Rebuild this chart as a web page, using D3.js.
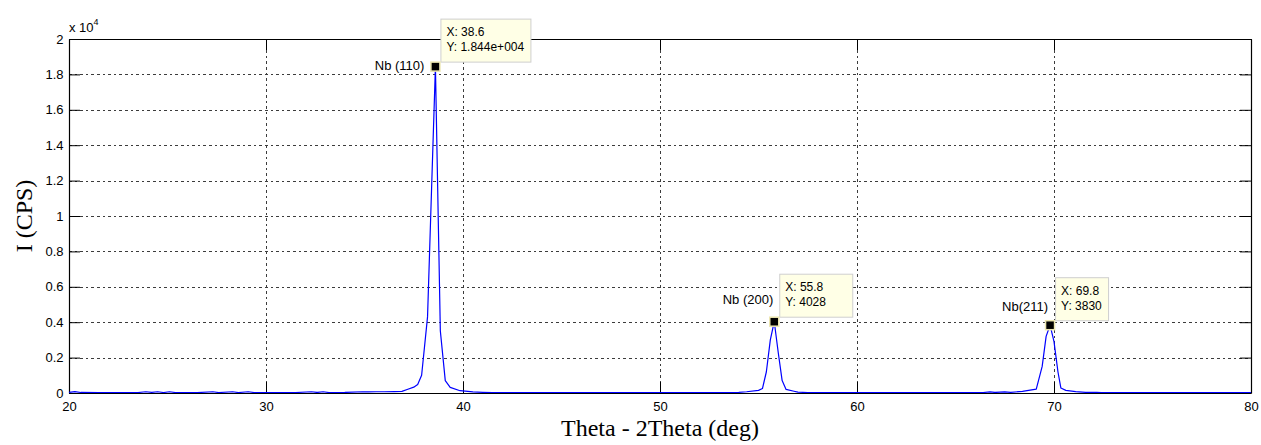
<!DOCTYPE html>
<html>
<head>
<meta charset="utf-8">
<script src="https://cdn.jsdelivr.net/npm/d3@7"></script>
<style>
  html, body { margin: 0; padding: 0; background: #fff; }
  svg { display: block; }
</style>
</head>
<body>
<svg id="chart" width="1261" height="445"></svg>
<script>
// XRD scan of a Nb film: 2-theta (deg) against intensity (counts per second)
const theta = [
  20.0, 20.3, 20.6, 21.5, 22.5, 23.5, 23.9, 24.2, 24.5, 24.8, 25.1, 25.4,
  26.5, 27.3, 27.6, 28.3, 28.6, 29.1, 29.4, 30.5, 31.5, 32.3, 32.6, 32.9,
  33.2, 34.0, 34.9, 35.2, 35.6, 36.0, 36.5, 36.9, 37.2, 37.5, 37.7, 37.9,
  38.2, 38.6, 38.85, 39.1, 39.35, 39.85, 40.5, 41.0, 41.5, 43.0, 45.0, 47.0,
  49.0, 51.0, 53.0, 54.0, 54.4, 55.0, 55.2, 55.4, 55.6, 55.8, 56.0, 56.2,
  56.4, 56.8, 57.0, 57.5, 59.0, 61.0, 63.0, 65.0, 66.4, 66.75, 67.0, 67.5,
  67.8, 68.4, 69.1, 69.4, 69.6, 69.8, 70.0, 70.2, 70.35, 70.6, 71.1, 71.6,
  72.17, 72.4, 74.0, 76.0, 78.0, 80.0
];
const intensity = [
  30, 80, 30, 20, 25, 25, 70, 40, 70, 25, 70, 25,
  20, 70, 25, 70, 25, 70, 25, 20, 25, 70, 30, 70,
  25, 30, 70, 60, 70, 70, 80, 90, 210, 330, 480, 1000,
  4300, 18440, 3500, 700, 320, 130, 60, 40, 20, 20, 25, 20,
  25, 20, 25, 40, 70, 150, 250, 1200, 3000, 4028, 2300, 700,
  200, 100, 50, 20, 25, 20, 25, 20, 25, 60, 30, 60,
  40, 90, 220, 1500, 3200, 3830, 2900, 1200, 280, 150, 75, 40,
  40, 20, 20, 25, 20, 20
];

// Axis ticks
const xTicks = [20, 30, 40, 50, 60, 70, 80];
const yTicks = [0, 2000, 4000, 6000, 8000, 10000, 12000, 14000, 16000, 18000, 20000];
const yTickLabels = ["0", "0.2", "0.4", "0.6", "0.8", "1", "1.2", "1.4", "1.6", "1.8", "2"];

// Indexed reflections with their data tips
const peakTheta = [38.6, 55.8, 69.8];
const peakIntensity = [18440, 4028, 3830];
const peakNames = ["Nb (110)", "Nb (200)", "Nb(211)"];

// Placement of the reflection names relative to each marker (dx = right end, dy = baseline)
const nameOffsets = [[-11, 3.5], [-1, -17.5], [-2, -14]];
// Extra right padding inside each tip box
const tipExtraPad = [0, 20, 0];

const svg = d3.select("#chart");
const plot = { left: 69, top: 39, right: 1251, bottom: 393 };
const tickLen = 11;
const sans = "'Liberation Sans', Arial, Helvetica, sans-serif";
const serif = "'Liberation Serif', 'Times New Roman', serif";

const x = d3.scaleLinear().domain([20, 80]).range([plot.left, plot.right]);
const y = d3.scaleLinear().domain([0, 20000]).range([plot.bottom, plot.top]);

svg.append("rect").attr("width", 1261).attr("height", 445).attr("fill", "#fff");

// Dotted grid
const grid = svg.append("g")
  .attr("stroke", "#3c3c3c")
  .attr("stroke-width", 1)
  .attr("stroke-dasharray", "2.6,3")
  .attr("shape-rendering", "crispEdges");
grid.selectAll("line.gx")
  .data(xTicks.slice(1, -1))
  .join("line")
  .attr("x1", d => Math.round(x(d)) + 0.5).attr("x2", d => Math.round(x(d)) + 0.5)
  .attr("y1", plot.top).attr("y2", plot.bottom);
grid.selectAll("line.gy")
  .data(yTicks.slice(1, -1))
  .join("line")
  .attr("y1", d => Math.round(y(d)) + 0.5).attr("y2", d => Math.round(y(d)) + 0.5)
  .attr("x1", plot.left).attr("x2", plot.right);

// Scan trace clip region
svg.append("clipPath").attr("id", "plotClip")
  .append("rect")
  .attr("x", plot.left).attr("y", plot.top)
  .attr("width", plot.right - plot.left).attr("height", plot.bottom - plot.top);

const line = d3.line()
  .x((d, i) => x(theta[i]))
  .y(d => y(d));

// Axes with inward ticks on all four sides
function styleAxis(g) {
  g.select(".domain").attr("stroke", "#000").attr("stroke-width", 1.2);
  g.selectAll(".tick line").attr("stroke", "#000").attr("stroke-width", 1);
  g.selectAll(".tick text")
    .attr("font-family", sans)
    .attr("font-size", "13px")
    .attr("fill", "#000");
  g.attr("font-family", sans);
}

svg.append("g")
  .attr("transform", `translate(0,${plot.bottom})`)
  .call(d3.axisBottom(x).tickValues(xTicks).tickSizeInner(-tickLen).tickSizeOuter(0).tickPadding(8.5))
  .call(styleAxis);

svg.append("g")
  .attr("transform", `translate(0,${plot.top})`)
  .call(d3.axisTop(x).tickValues(xTicks).tickSizeInner(-tickLen).tickSizeOuter(0).tickFormat(""))
  .call(styleAxis);

svg.append("g")
  .attr("transform", `translate(${plot.left},0)`)
  .call(d3.axisLeft(y).tickValues(yTicks).tickSizeInner(-tickLen).tickSizeOuter(0).tickPadding(5.5)
    .tickFormat((d, i) => yTickLabels[i]))
  .call(styleAxis);

svg.append("g")
  .attr("transform", `translate(${plot.right},0)`)
  .call(d3.axisRight(y).tickValues(yTicks).tickSizeInner(-tickLen).tickSizeOuter(0).tickFormat(""))
  .call(styleAxis);

svg.append("path")
  .datum(intensity)
  .attr("clip-path", "url(#plotClip)")
  .attr("fill", "none")
  .attr("stroke", "#0000ff")
  .attr("stroke-width", 1.2)
  .attr("stroke-linejoin", "round")
  .attr("d", line);

// Exponent label of the intensity axis
const expo = svg.append("text")
  .attr("x", plot.left)
  .attr("y", 31.5)
  .attr("font-family", sans)
  .attr("font-size", "13px")
  .attr("fill", "#000");
expo.append("tspan").text("x 10");
expo.append("tspan").attr("font-size", "9px").attr("dy", -7).text("4");

// Axis titles
svg.append("text")
  .attr("x", (plot.left + plot.right) / 2)
  .attr("y", 436)
  .attr("text-anchor", "middle")
  .attr("font-family", serif)
  .attr("font-size", "24px")
  .attr("fill", "#000")
  .text("Theta - 2Theta (deg)");

svg.append("text")
  .attr("transform", `translate(32,${(plot.top + plot.bottom) / 2}) rotate(-90)`)
  .attr("text-anchor", "middle")
  .attr("font-family", serif)
  .attr("font-size", "24px")
  .attr("fill", "#000")
  .text("I (CPS)");

// MATLAB-style number display for the tips
function tipNumber(v) {
  if (Math.abs(v) >= 1e4) {
    const e = Math.floor(Math.log10(Math.abs(v)));
    const m = (v / Math.pow(10, e)).toFixed(3);
    return `${m}e+${String(e).padStart(3, "0")}`;
  }
  return String(v);
}

// Reflection names, markers and data tips
peakTheta.forEach((t, i) => {
  const mx = x(t), my = y(peakIntensity[i]);
  const g = svg.append("g");

  g.append("text")
    .attr("x", mx + nameOffsets[i][0])
    .attr("y", my + nameOffsets[i][1])
    .attr("text-anchor", "end")
    .attr("font-family", sans)
    .attr("font-size", "13px")
    .attr("fill", "#000")
    .text(peakNames[i]);

  const box = g.append("rect");
  const boxH = 43;
  const bx = mx + 5, by = my - 5 - boxH;
  const lines = [`X: ${t}`, `Y: ${tipNumber(peakIntensity[i])}`];
  const texts = lines.map((s, k) => g.append("text")
    .attr("x", bx + 6)
    .attr("y", by + 17.5 + k * 15)
    .attr("font-family", sans)
    .attr("font-size", "12px")
    .attr("fill", "#000")
    .text(s));
  const tw = d3.max(texts, tx => tx.node().getComputedTextLength());
  box.attr("x", bx + 0.5).attr("y", by + 0.5)
    .attr("width", Math.round(tw + 12 + tipExtraPad[i]))
    .attr("height", boxH)
    .attr("fill", "#ffffe6")
    .attr("stroke", "#cfcfcf")
    .attr("stroke-width", 1);
  // keep text above the box
  texts.forEach(tx => tx.raise());

  g.append("rect")
    .attr("x", mx - 4.5).attr("y", my - 4.5)
    .attr("width", 9).attr("height", 9)
    .attr("fill", "#000")
    .attr("stroke", "#ece6b0")
    .attr("stroke-width", 1.5);
});
</script>
</body>
</html>
